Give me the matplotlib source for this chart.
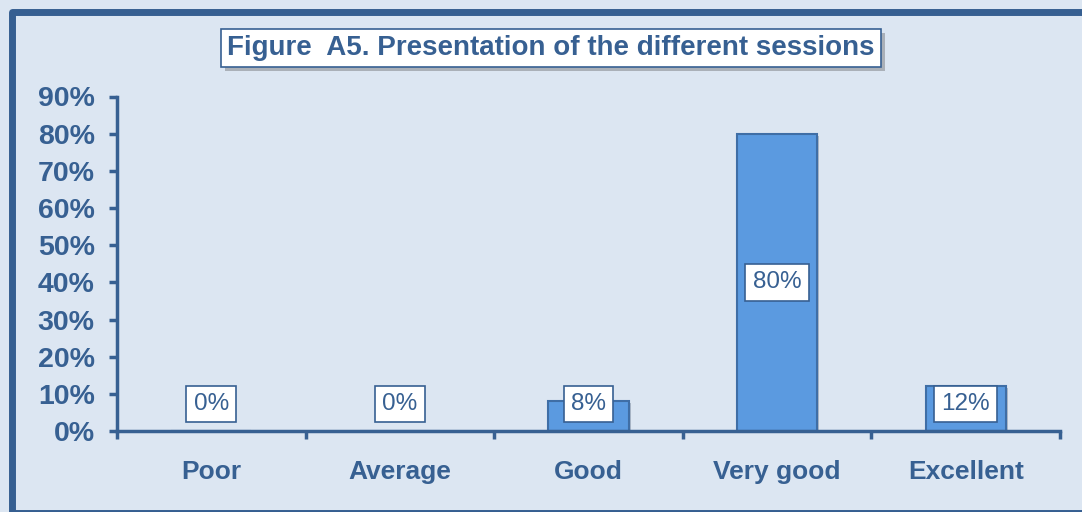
import matplotlib.pyplot as plt
import matplotlib.patheffects as pe
from matplotlib.patches import Rectangle
from matplotlib.ticker import PercentFormatter

# data
categories = ["Poor", "Average", "Good", "Very good", "Excellent"]
shares = [0.00, 0.00, 0.08, 0.80, 0.12]
label_texts = ["0%", "0%", "8%", "80%", "12%"]

dark_blue = "#376092"
bar_blue = "#5b9ae0"
bar_edge = "#3f6ea6"
bg = "#dce6f2"

plt.rcParams['font.family'] = ['Liberation Sans', 'DejaVu Sans']

W, H = 1082, 512
fig = plt.figure(figsize=(W / 100, H / 100), dpi=100)
fig.patch.set_facecolor(bg)

# outer chart frame (runs off the right/bottom edge)
frame = Rectangle((11.5 / W, 1 - 513 / H), 1.05, (513 - 11.5) / H,
                  transform=fig.transFigure, fill=False,
                  edgecolor="#365f91", linewidth=5, joinstyle="round")
fig.patches.append(frame)

ax = fig.add_axes([117 / W, 1 - 431 / H, (1060 - 117) / W, (431 - 96.5) / H])
ax.set_facecolor(bg)

x = range(len(categories))
bars = ax.bar(x, shares, width=0.425, color=bar_blue, edgecolor=bar_edge,
              linewidth=1.5, zorder=2)
for b in bars:
    b.set_path_effects([pe.SimplePatchShadow(offset=(1.5, -1.5), alpha=0.25),
                        pe.Normal()])

ax.set_xlim(-0.5, len(categories) - 0.5)
ax.set_ylim(0, 0.9)
ax.set_yticks([i / 10 for i in range(10)])
ax.yaxis.set_major_formatter(PercentFormatter(1.0, decimals=0))

# ticks sit between categories on the x axis
ax.set_xticks([i - 0.5 for i in range(len(categories) + 1)])
ax.set_xticklabels([])
ax.set_xticks(list(x), minor=True)
ax.set_xticklabels(categories, minor=True)
ax.tick_params(axis="x", which="minor", length=0, pad=21)
ax.tick_params(axis="x", which="major", length=6, width=2.5, color=dark_blue)
ax.tick_params(axis="y", length=6, width=2.5, color=dark_blue, pad=10)

for lbl in ax.get_xticklabels(minor=True):
    lbl.set_fontsize(19)
    lbl.set_fontweight("bold")
    lbl.set_color(dark_blue)
for lbl in ax.get_yticklabels():
    lbl.set_fontsize(20.5)
    lbl.set_fontweight("bold")
    lbl.set_color(dark_blue)

for side in ["top", "right"]:
    ax.spines[side].set_visible(False)
for side in ["left", "bottom"]:
    ax.spines[side].set_color(dark_blue)
    ax.spines[side].set_linewidth(2.5)

# data labels in white boxes
for xi, v, t in zip(x, shares, label_texts):
    ax.text(xi, max(v / 2, 0.073), t, ha="center", va="center",
            fontsize=17.5, color=dark_blue, zorder=4,
            bbox=dict(boxstyle="square,pad=0.3", facecolor="white",
                      edgecolor=dark_blue, linewidth=1.2))

# title box with shadow
title = fig.text(551 / W, 1 - 48 / H,
                 "Figure  A5. Presentation of the different sessions",
                 ha="center", va="center", fontsize=20, fontweight="bold",
                 color=dark_blue,
                 bbox=dict(boxstyle="square,pad=0.22", facecolor="white",
                           edgecolor=dark_blue, linewidth=1.2))
title.get_bbox_patch().set_path_effects(
    [pe.SimplePatchShadow(offset=(3, -3), alpha=0.35), pe.Normal()])

fig.savefig("out.png", dpi=100, facecolor=bg)
